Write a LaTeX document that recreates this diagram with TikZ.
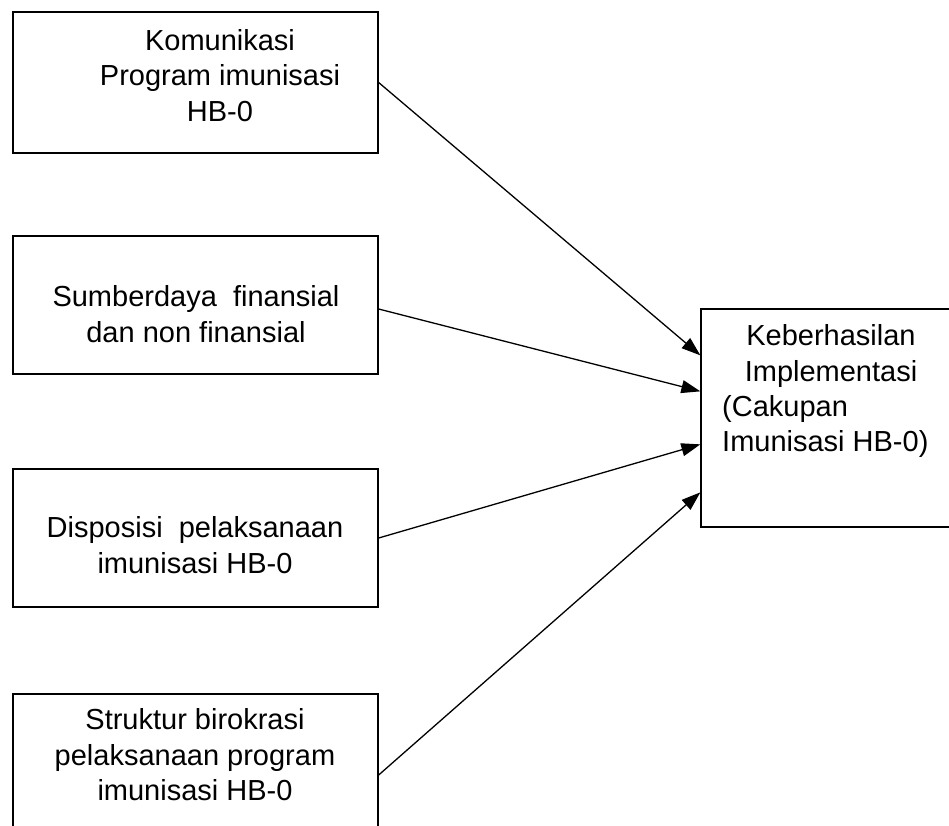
\documentclass[tikz,border=0pt]{standalone}
\usepackage{fontspec}
\setmainfont{Liberation Sans}
\usetikzlibrary{arrows.meta}
\begin{document}
\begin{tikzpicture}[x=1pt,y=-1pt,
  box/.style={draw, line width=1.3pt, minimum width=365pt, inner sep=0pt},
  txt/.style={font=\fontsize{29}{35.5}\selectfont, inner sep=0pt},
  link/.style={line width=1.3pt, -{Triangle[length=19pt,width=13pt]}}]
\useasboundingbox (0,0) rectangle (949,825);

% factor boxes on the left
\node[box, minimum height=141pt] (b1) at (195.5,82.5) {};
\node[box, minimum height=138pt] (b2) at (195.5,305) {};
\node[box, minimum height=138pt] (b3) at (195.5,538) {};
\node[box, minimum height=162pt] (b4) at (195.5,775) {};

% outcome box on the right
\node[box, minimum width=259pt, minimum height=218pt] (r) at (830.5,418) {};

% box texts
\node[txt, align=center] (t1) at (220,75.5) {Komunikasi\\Program imunisasi\\HB-0};
\node[txt, align=center] (t2) at (196,314) {Sumberdaya~ finansial\\dan non finansial};
\node[txt, align=center] (t3) at (195,545) {Disposisi~ pelaksanaan\\imunisasi HB-0};
\node[txt, align=center] (t4) at (195,755) {Struktur birokrasi\\pelaksanaan program\\imunisasi HB-0};
\node[txt, align=center] (tr1) at (831,356) {Keberhasilan\\Implementasi};
\node[txt, align=left, anchor=west] (tr2) at (722,426.5) {(Cakupan\\Imunisasi HB-0)};

% connectors
\draw[link] (b1.east) -- ([yshift=-47pt]r.north west);
\draw[link] ([yshift=-4pt]b2.east) -- ([yshift=-83pt]r.north west);
\draw[link] (b3.east) -- ([yshift=-136pt]r.north west);
\draw[link] (b4.east) -- ([yshift=-184pt]r.north west);
\end{tikzpicture}
\end{document}
